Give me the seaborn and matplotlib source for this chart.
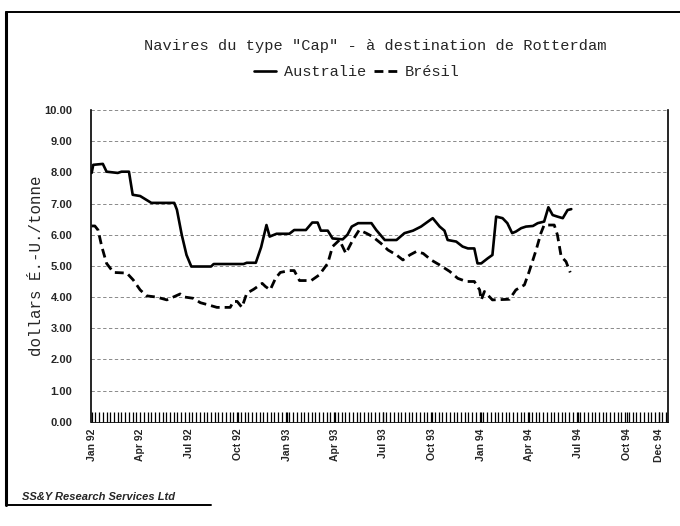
import pandas as pd
import numpy as np
import matplotlib
matplotlib.use("Agg")
import matplotlib.pyplot as plt
from matplotlib.lines import Line2D
import seaborn as sns

# Australie (solid) - breakpoints
aus_dates = [
    "1992-01-01", "1992-01-04", "1992-01-22", "1992-01-29", "1992-02-19", "1992-02-26",
    "1992-03-11", "1992-03-18", "1992-04-01", "1992-04-22", "1992-06-04", "1992-06-09",
    "1992-06-18", "1992-06-27", "1992-07-06", "1992-08-12", "1992-08-17", "1992-10-12",
    "1992-10-18", "1992-11-04", "1992-11-14", "1992-11-24", "1992-11-30", "1992-12-13",
    "1993-01-06", "1993-01-15", "1993-02-06", "1993-02-18", "1993-02-28", "1993-03-06",
    "1993-03-19", "1993-03-28", "1993-04-16", "1993-04-25", "1993-05-03", "1993-05-15",
    "1993-06-09", "1993-06-18", "1993-07-04", "1993-07-26", "1993-08-10", "1993-08-26",
    "1993-09-10", "1993-09-23", "1993-10-02", "1993-10-15", "1993-10-24", "1993-10-30",
    "1993-11-15", "1993-11-27", "1993-12-07", "1993-12-19", "1993-12-25", "1994-01-01",
    "1994-01-13", "1994-01-22", "1994-01-29", "1994-02-10", "1994-02-19", "1994-02-28",
    "1994-03-07", "1994-03-17", "1994-03-26", "1994-04-08", "1994-04-17", "1994-04-29",
    "1994-05-07", "1994-05-15", "1994-05-24", "1994-06-03", "1994-06-12", "1994-06-19",
]
aus_values = [
    7.98, 8.24, 8.27, 8.02, 7.98, 8.02,
    8.02, 7.28, 7.24, 7.02, 7.02, 6.80,
    6.00, 5.35, 4.98, 4.98, 5.06, 5.06,
    5.10, 5.10, 5.60, 6.31, 5.94, 6.03,
    6.03, 6.15, 6.15, 6.39, 6.39, 6.13,
    6.13, 5.88, 5.85, 6.00, 6.26, 6.37,
    6.37, 6.15, 5.83, 5.83, 6.05, 6.13,
    6.26, 6.42, 6.53, 6.26, 6.13, 5.83,
    5.78, 5.62, 5.56, 5.56, 5.08, 5.08,
    5.24, 5.35, 6.58, 6.53, 6.37, 6.05,
    6.10, 6.21, 6.26, 6.28, 6.37, 6.42,
    6.88, 6.63, 6.58, 6.53, 6.79, 6.82,
]

# Brésil (dashed)
bre_dates = [
    "1992-01-01", "1992-01-07", "1992-01-13", "1992-01-20", "1992-01-29", "1992-02-11",
    "1992-03-07", "1992-03-19", "1992-04-01", "1992-04-13", "1992-05-02", "1992-05-21",
    "1992-06-02", "1992-06-15", "1992-06-24", "1992-07-10", "1992-07-23", "1992-08-07",
    "1992-08-23", "1992-09-17", "1992-09-23", "1992-09-30", "1992-10-09", "1992-10-18",
    "1992-10-31", "1992-11-16", "1992-11-22", "1992-12-01", "1992-12-11", "1992-12-20",
    "1993-01-06", "1993-01-15", "1993-01-25", "1993-02-16", "1993-03-03", "1993-03-19",
    "1993-03-28", "1993-04-10", "1993-04-22", "1993-05-05", "1993-05-17", "1993-05-30",
    "1993-06-11", "1993-06-27", "1993-07-10", "1993-07-26", "1993-08-07", "1993-08-20",
    "1993-09-01", "1993-09-14", "1993-09-29", "1993-10-15", "1993-11-03", "1993-11-18",
    "1993-12-04", "1993-12-19", "1993-12-29", "1994-01-01", "1994-01-07", "1994-01-22",
    "1994-02-23", "1994-03-07", "1994-03-23", "1994-04-01", "1994-04-14", "1994-04-23",
    "1994-04-29", "1994-05-18", "1994-05-24", "1994-05-31", "1994-06-09", "1994-06-17",
]
bre_values = [
    6.28, 6.28, 6.15, 5.62, 5.08, 4.79,
    4.77, 4.55, 4.23, 4.04, 4.00, 3.91,
    4.00, 4.10, 4.00, 3.96, 3.82, 3.75,
    3.67, 3.67, 3.86, 3.86, 3.67, 4.12,
    4.25, 4.44, 4.34, 4.23, 4.60, 4.79,
    4.85, 4.85, 4.53, 4.53, 4.71, 5.08,
    5.62, 5.83, 5.40, 5.83, 6.15, 6.05,
    5.94, 5.72, 5.51, 5.35, 5.19, 5.35,
    5.46, 5.40, 5.19, 5.03, 4.82, 4.60,
    4.50, 4.50, 4.23, 3.91, 4.18, 3.91,
    3.93, 4.23, 4.39, 4.82, 5.51, 6.05,
    6.31, 6.31, 5.99, 5.30, 5.14, 4.79,
]

tick_dates = ["1992-01-01", "1992-04-01", "1992-07-01", "1992-10-01", "1993-01-01",
              "1993-04-01", "1993-07-01", "1993-10-01", "1994-01-01", "1994-04-01",
              "1994-07-01", "1994-10-01", "1994-12-01"]
tick_labels = ["Jan 92", "Apr 92", "Jul 92", "Oct 92", "Jan 93", "Apr 93", "Jul 93",
               "Oct 93", "Jan 94", "Apr 94", "Jul 94", "Oct 94", "Dec 94"]
y_ticks = [0, 1, 2, 3, 4, 5, 6, 7, 8, 9, 10]

sns.set_style("white")
mono = ["Liberation Mono", "DejaVu Sans Mono"]
sans = ["Liberation Sans", "DejaVu Sans"]

fig = plt.figure(figsize=(6.8, 5.26), dpi=100)
ax = fig.add_axes([0.134, 0.198, 0.848, 0.593])

aus = pd.DataFrame({"date": pd.to_datetime(aus_dates), "value": aus_values})
bre = pd.DataFrame({"date": pd.to_datetime(bre_dates), "value": bre_values})

sns.lineplot(data=aus, x="date", y="value", ax=ax, color="black", linewidth=1.9,
             label="Australie")
sns.lineplot(data=bre, x="date", y="value", ax=ax, color="black", linewidth=2.0,
             label="Brésil")
ax.lines[1].set_dashes((3.2, 1.8))

ax.set_xlim(pd.Timestamp("1991-12-31"), pd.Timestamp("1994-12-17"))
ax.set_ylim(0, 10)

# gridlines
ax.set_yticks(y_ticks)
ax.set_yticklabels([f"{v:.2f}" for v in y_ticks], fontfamily=sans,
                   fontweight="bold", fontsize=8)
for v in y_ticks[1:]:
    ax.axhline(v, color="#777777", linewidth=0.6, linestyle=(0, (4, 3)), zorder=0)

ax.set_xticks(pd.to_datetime(tick_dates))
ax.set_xticklabels(tick_labels, rotation=90, fontfamily=sans, fontweight="bold",
                   fontsize=7.5)
weeks = pd.date_range("1992-01-01", "1994-12-17", freq="7D")
ax.set_xticks(weeks, minor=True)
ax.tick_params(axis="x", which="both", bottom=True, direction="in", length=7,
               width=0.9, color="black", pad=5)
ax.tick_params(axis="y", which="both", left=False, pad=10)

for s in ["left", "right", "bottom"]:
    ax.spines[s].set_color("black")
ax.spines["left"].set_linewidth(1.2)
ax.spines["right"].set_linewidth(1.2)
ax.spines["bottom"].set_linewidth(0.6)
ax.spines["top"].set_visible(False)

ax.set_xlabel("")
ax.set_ylabel("dollars É.-U./tonne", fontfamily=mono, fontsize=11.3, labelpad=0.5)

ax.legend(loc="lower center", bbox_to_anchor=(0.46, 1.055), ncol=2, frameon=False,
          handlelength=1.5, handletextpad=0.5, columnspacing=0.5,
          prop={"family": mono, "size": 11})

fig.text(0.552, 0.912, 'Navires du type "Cap" - à destination de Rotterdam',
         ha="center", va="center", fontfamily=mono, fontsize=11.1)
fig.text(0.032, 0.055, "SS&Y Research Services Ltd", ha="left", va="center",
         fontfamily=sans, fontweight="bold", fontstyle="italic", fontsize=8)

# page border of the scanned figure
fig.add_artist(Line2D([0.009, 0.009], [0.04, 0.977], color="black", linewidth=2.2))
fig.add_artist(Line2D([0.009, 1.0], [0.977, 0.977], color="black", linewidth=1.4))
fig.add_artist(Line2D([0.009, 0.31], [0.04, 0.04], color="black", linewidth=1.4))

fig.savefig("out.png", dpi=100)
